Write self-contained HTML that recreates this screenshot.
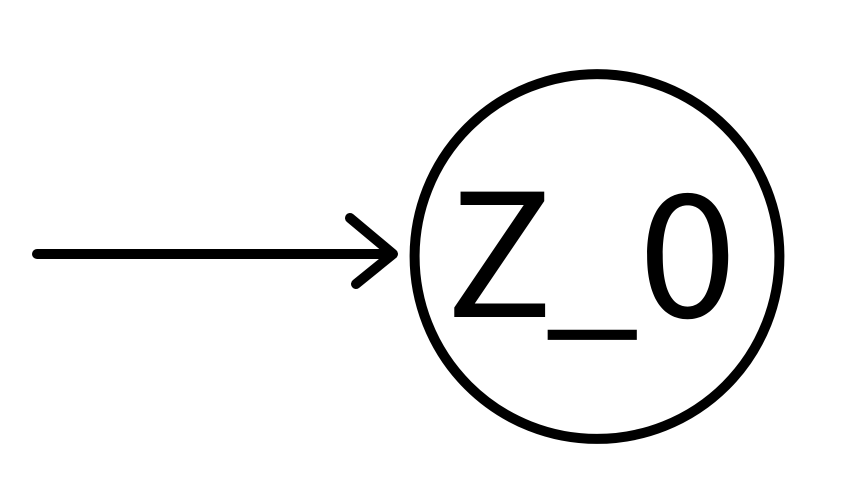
<!DOCTYPE html>
<html lang="en">
<head>
<meta charset="utf-8">
<title>Initial state Z_0</title>
<style>
html,body{margin:0;padding:0;background:#fff;width:865px;height:503px;overflow:hidden}
svg{display:block}
text{font-family:'Noto Sans CJK JP',sans-serif;font-size:171px;fill:#000}
</style>
</head>
<body>
<svg width="865" height="503" viewBox="0 0 865 503" xmlns="http://www.w3.org/2000/svg">
<rect width="865" height="503" fill="#fff"/>
<g fill="none" stroke="#000" stroke-width="10" stroke-linecap="round" stroke-linejoin="round">
<line x1="37" y1="254" x2="392" y2="254"/>
<polyline points="350,218 393,254 356,284"/>
</g>
<circle cx="597" cy="256.5" r="182.4" fill="none" stroke="#000" stroke-width="10"/>
<g>
<text transform="translate(445.3,317) scale(1.05,1)">Z</text>
<text transform="translate(545.5,316) scale(0.98,1)">_</text>
<text transform="translate(638.2,317) scale(1.04,1)">0</text>
</g>
</svg>
</body>
</html>
